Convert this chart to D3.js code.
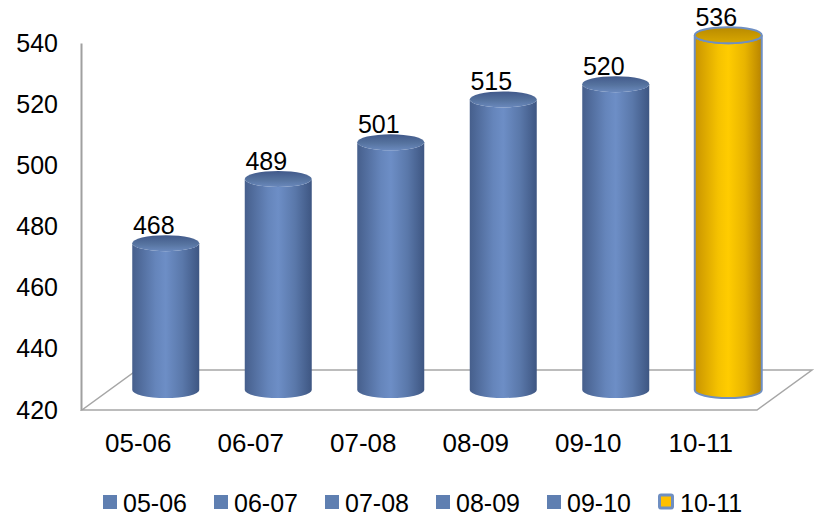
<!DOCTYPE html>
<html>
<head>
<meta charset="utf-8">
<script src="https://cdn.jsdelivr.net/npm/d3@7"></script>
<style>
  html, body { margin: 0; padding: 0; background: #fff; }
  svg { display: block; font-family: "Liberation Sans", Arial, sans-serif; }
</style>
</head>
<body>
<svg id="chart" width="816" height="517"></svg>
<script>
const categories = ["05-06", "06-07", "07-08", "08-09", "09-10", "10-11"];
const values = [468, 489, 501, 515, 520, 536];
const yTicks = [420, 440, 460, 480, 500, 520, 540];
const highlightCategory = "10-11";

const svg = d3.select("#chart");
const FONT = "Liberation Sans, Arial, sans-serif";

// front plane scales
const x = d3.scaleBand().domain(categories).range([82, 757]).paddingInner(0).paddingOuter(0);
const y = d3.scaleLinear().domain([420, 540]).range([410, 43]);

// depth projection
const depthDx = 55, depthDy = -40;
const midDx = depthDx / 2, midDy = depthDy / 2;

const defs = svg.append("defs");
function hGrad(id, stops) {
  const g = defs.append("linearGradient").attr("id", id).attr("x1", "0").attr("x2", "1").attr("y1", "0").attr("y2", "0");
  stops.forEach(s => g.append("stop").attr("offset", s[0]).attr("stop-color", s[1]));
}
function vGrad(id, stops) {
  const g = defs.append("linearGradient").attr("id", id).attr("x1", "0").attr("x2", "0").attr("y1", "0").attr("y2", "1");
  stops.forEach(s => g.append("stop").attr("offset", s[0]).attr("stop-color", s[1]));
}
hGrad("blueBody", [[0, "#465f8c"], [0.35, "#6585bb"], [0.5, "#6d8ec6"], [0.75, "#5a78aa"], [1, "#3e5682"]]);
vGrad("blueTop", [[0, "#41598a"], [0.55, "#56739f"], [1, "#6a89bd"]]);
hGrad("goldBody", [[0, "#c99400"], [0.35, "#f5c200"], [0.5, "#ffcc00"], [0.75, "#e8b400"], [1, "#b88400"]]);
vGrad("goldTop", [[0, "#b88a00"], [0.6, "#cc9c00"], [1, "#d8a800"]]);

// floor
const floorY = y(420);
const x0 = x.range()[0], x1 = x.range()[1];
svg.append("path")
  .attr("d", `M${x0},${floorY} L${x1},${floorY} L${x1 + depthDx},${floorY + depthDy} L${x0 + depthDx},${floorY + depthDy} Z`)
  .attr("fill", "none").attr("stroke", "#a6a6a6").attr("stroke-width", 1.5);

// value axis
const yAxis = svg.append("g")
  .attr("transform", `translate(${x0 - 1},0)`)
  .call(d3.axisLeft(y).tickValues(yTicks).tickSize(0).tickSizeOuter(0).tickPadding(23));
yAxis.select(".domain").attr("stroke", "#a0a0a0").attr("stroke-width", 2);
yAxis.selectAll("text").attr("font-size", 25).attr("fill", "#000").attr("font-family", FONT);

// category axis
const xAxis = svg.append("g")
  .attr("transform", `translate(0,${floorY})`)
  .call(d3.axisBottom(x).tickSize(0).tickPadding(24));
xAxis.select(".domain").remove();
xAxis.selectAll("text").attr("font-size", 26).attr("fill", "#000").attr("font-family", FONT);

// cylinders
const rx = 33.5, ry = 8;
const data = categories.map((c, i) => ({ c, v: values[i] }));
const bars = svg.append("g").selectAll("g").data(data).join("g");

bars.each(function (d) {
  const g = d3.select(this);
  const hl = d.c === highlightCategory;
  const cx = x(d.c) + x.bandwidth() / 2 + midDx;
  const yb = y(420) + midDy;
  const yt = y(d.v) + midDy;
  const body = `M${cx - rx},${yt} L${cx - rx},${yb} A${rx},${ry} 0 0 0 ${cx + rx},${yb} L${cx + rx},${yt} A${rx},${ry} 0 0 1 ${cx - rx},${yt} Z`;
  g.append("path").attr("d", body)
    .attr("fill", hl ? "url(#goldBody)" : "url(#blueBody)")
    .attr("stroke", hl ? "#6f8fc2" : "none").attr("stroke-width", hl ? 2 : 0);
  g.append("ellipse").attr("cx", cx).attr("cy", yt).attr("rx", rx).attr("ry", ry)
    .attr("fill", hl ? "url(#goldTop)" : "url(#blueTop)")
    .attr("stroke", hl ? "#6f8fc2" : "none").attr("stroke-width", hl ? 2 : 0);
  g.append("text")
    .attr("x", cx - 12).attr("y", yt - ry - 1)
    .attr("text-anchor", "middle").attr("font-size", 25).attr("fill", "#000")
    .attr("font-family", FONT)
    .text(d.v);
});

// legend
const legendX = d3.scalePoint().domain(categories).range([103, 658]);
const lg = svg.append("g").selectAll("g").data(categories).join("g")
  .attr("transform", c => `translate(${legendX(c)},495)`);
lg.each(function (c) {
  const g = d3.select(this);
  if (c === highlightCategory) {
    g.append("rect").attr("x", 1.5).attr("y", 0).attr("width", 13).attr("height", 13)
      .attr("fill", "#ffc000").attr("stroke", "#6f8fc2").attr("stroke-width", 3).attr("rx", 1.5);
  } else {
    g.append("rect").attr("x", 0).attr("y", 0).attr("width", 14).attr("height", 14).attr("fill", "#5f7fb1");
  }
  g.append("text").attr("x", c === highlightCategory ? 22 : 20).attr("y", 17)
    .attr("font-size", 25).attr("fill", "#000").attr("font-family", FONT).text(c);
});
</script>
</body>
</html>
